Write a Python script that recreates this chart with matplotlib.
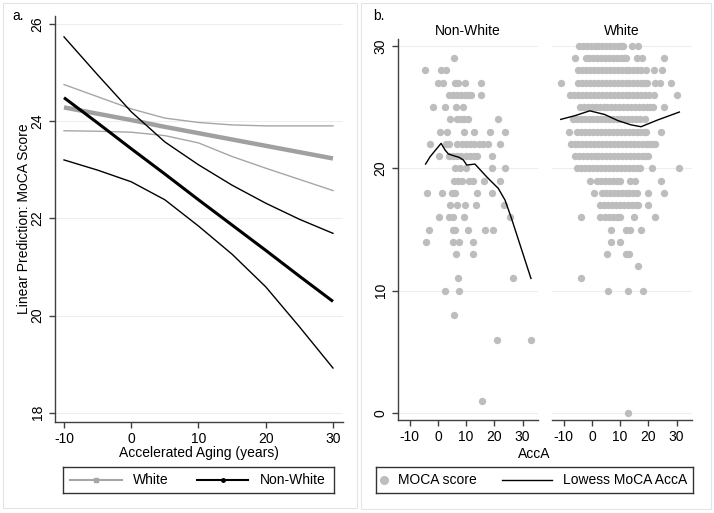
import matplotlib.pyplot as plt
from matplotlib.patches import Rectangle

plt.rcParams['font.family'] = ['Liberation Sans', 'DejaVu Sans']
plt.rcParams['axes.unicode_minus'] = False

# ---- panel a: linear predictions by group
acc_x = [-10, -5, 0, 5, 10, 15, 20, 25, 30]
white_fit = [24.28, 24.15, 24.02, 23.88, 23.75, 23.62, 23.49, 23.36, 23.23]
white_hi = [24.75, 24.50, 24.25, 24.06, 23.97, 23.92, 23.90, 23.90, 23.90]
white_lo = [23.80, 23.79, 23.77, 23.70, 23.55, 23.27, 23.03, 22.80, 22.57]
nonwhite_fit = [24.48, 23.96, 23.43, 22.91, 22.38, 21.86, 21.34, 20.81, 20.29]
nonwhite_hi = [25.73, 24.95, 24.19, 23.57, 23.10, 22.68, 22.31, 21.98, 21.69]
nonwhite_lo = [23.20, 22.99, 22.75, 22.38, 21.84, 21.26, 20.59, 19.77, 18.92]

# ---- panel b: MoCA score vs AccA, one list of AccA values per score row
nw_scores = [29, 28, 27, 26, 25, 24, 23, 22, 21, 20, 19, 18, 17, 16, 15, 14, 13, 11, 10, 8, 6, 1]
nw_acca = [
	[5.7],
	[-4.5, 1.2, 2.7],
	[0.0, 1.8, 6.0, 7.2, 9.6, 15.3],
	[4.0, 5.4, 6.8, 8.2, 9.6, 10.8, 11.6, 15.2],
	[-1.7, 2.4, 6.5, 8.9],
	[4.4, 6.6, 8.0, 9.4, 10.8, 21.3],
	[0.6, 3.3, 9.1, 12.9, 18.3, 23.9],
	[-2.9, 2.8, 4.0, 6.9, 8.4, 9.9, 11.4, 12.9, 14.4, 15.9, 17.6, 21.9],
	[0.5, 3.8, 5.3, 6.8, 8.3, 9.8, 11.3, 12.8, 14.0, 19.0],
	[6.0, 7.7, 10.1, 19.2, 23.7],
	[5.6, 7.0, 8.4, 11.0, 12.6, 16.5, 22.1],
	[-4.0, 1.3, 5.0, 6.2, 13.7, 19.0],
	[4.4, 6.9, 9.7, 13.6, 23.4],
	[0.2, 4.0, 5.2, 9.2, 25.6],
	[-3.2, 5.3, 6.2, 10.6, 16.8, 19.5],
	[-4.1, 5.3, 7.3, 12.4],
	[6.3, 12.4],
	[7.1, 26.8],
	[2.4, 7.5],
	[5.7],
	[20.9, 33.1],
	[15.6],
]

w_scores = [30, 29, 28, 27, 26, 25, 24, 23, 22, 21, 20, 19, 18, 17, 16, 15, 14, 13, 12, 11, 10, 0]
w_acca = [
	[-4.7, -3.3, -1.9, -0.5, 0.9, 2.3, 3.7, 5.1, 6.5, 7.9, 9.3, 10.2, 11.0, 14.3, 16.5],
	[-5.9, -2.3, -0.9, 0.5, 1.9, 3.3, 4.7, 6.1, 7.5, 8.9, 10.3, 11.2, 12.1, 16.0, 17.7, 25.7],
	[-4.9, -3.5, -2.1, -0.7, 0.7, 2.1, 3.5, 4.9, 6.3, 7.7, 9.1, 10.5, 11.9, 13.3, 14.7, 16.1,
	 17.5, 19.0, 22.0, 24.8],
	[-11.1, -4.9, -3.5, -2.1, -0.7, 0.7, 2.1, 3.5, 4.9, 6.3, 7.7, 9.1, 10.5, 11.9, 13.3, 14.7,
	 16.1, 17.5, 18.6, 19.4, 22.4, 24.3, 28.0],
	[-7.7, -6.3, -4.9, -3.5, -2.1, -0.7, 0.7, 2.1, 3.5, 4.9, 6.3, 7.7, 9.1, 10.5, 11.9, 13.3,
	 14.7, 16.1, 17.5, 18.9, 20.3, 21.9, 30.0],
	[-4.3, -2.9, -1.5, -0.1, 1.3, 2.7, 4.1, 5.5, 6.9, 8.3, 9.7, 11.1, 12.5, 13.9, 15.3, 16.7,
	 18.1, 19.5, 20.7, 21.8, 25.4],
	[-6.7, -5.3, -3.9, -2.5, -1.1, 0.3, 1.7, 3.1, 4.5, 5.9, 7.3, 8.7, 10.1, 11.5, 12.9, 14.3,
	 15.7, 17.1, 18.8],
	[-8.3, -5.2, -3.8, -2.4, -1.0, 0.4, 1.8, 3.2, 4.6, 6.0, 7.4, 8.8, 10.2, 11.6, 13.0, 14.4,
	 15.8, 17.2, 18.4, 19.2, 24.5],
	[-7.6, -6.2, -4.8, -3.4, -2.0, -0.6, 0.8, 2.2, 3.6, 5.0, 6.4, 7.8, 9.2, 10.6, 12.0, 13.4,
	 14.8, 16.2, 17.6, 19.0, 20.4, 21.4, 22.4],
	[-6.1, -4.7, -3.3, -1.9, -0.5, 0.9, 2.3, 3.7, 5.1, 6.5, 7.9, 9.3, 10.7, 12.1, 13.5, 14.9,
	 16.3, 17.7, 18.9, 19.8],
	[-5.2, -3.8, -2.4, -1.0, 0.4, 1.8, 3.2, 4.6, 6.0, 7.4, 8.8, 10.2, 11.6, 13.0, 14.4, 15.8,
	 17.2, 21.2, 31.0],
	[-0.8, 1.9, 3.3, 4.7, 6.1, 7.5, 8.9, 10.0, 13.6, 15.3, 24.5],
	[0.7, 3.5, 4.9, 6.3, 7.7, 9.1, 10.5, 11.9, 13.3, 14.7, 16.0, 20.0, 25.4],
	[3.0, 4.4, 5.8, 7.2, 8.6, 10.0, 11.4, 12.8, 14.2, 15.5, 16.5, 19.8],
	[-4.0, 3.0, 4.7, 6.1, 7.5, 8.7, 9.8, 14.8, 22.4],
	[6.8, 12.2, 13.6, 17.4],
	[6.8, 9.9],
	[5.4, 12.1, 13.3],
	[16.3],
	[-4.0],
	[5.7, 12.9, 18.2],
	[12.9],
]

# lowess curves
nw_lowess_x = [-4.4, -2.8, 1.1, 2.5, 3.7, 6.0, 7.5, 9.0, 10.2, 11.5, 13.1, 17.3, 21.4, 23.8, 26.1, 33.0]
nw_lowess_y = [20.35, 20.95, 22.04, 21.5, 21.17, 21.0, 20.9, 20.68, 20.27, 20.3, 20.35, 19.3, 18.36, 17.4, 15.9, 11.0]
w_lowess_x = [-11.1, -6.1, -0.8, 4.5, 9.2, 13.9, 17.4, 23.3, 31.0]
w_lowess_y = [24.0, 24.3, 24.7, 24.4, 23.9, 23.55, 23.4, 23.95, 24.6]

W, H = 714, 513
axis_col = '#404040'
grid_col = '#eeeeee'
dot_col = '#bdbdbd'
white_col = '#a6a6a6'


def fbox(x0, y_top, w, h):
	# pixel box (top-left origin) -> figure fraction rect
	return [x0 / W, 1 - (y_top + h) / H, w / W, h / H]


def style_axes(ax):
	for s in ['top', 'right']:
		ax.spines[s].set_visible(False)
	for s in ['left', 'bottom']:
		ax.spines[s].set_color(axis_col)
		ax.spines[s].set_linewidth(1.0)
	ax.tick_params(length=4, width=1, color=axis_col, labelsize=10, direction='out')
	ax.yaxis.grid(True, color=grid_col, lw=0.8)
	ax.set_axisbelow(True)


def legend_box(x0, y0, w, h):
	lax = fig.add_axes(fbox(x0, y0, w, h))
	lax.set_xlim(0, w)
	lax.set_ylim(h, 0)
	lax.set_xticks([])
	lax.set_yticks([])
	for s in lax.spines.values():
		s.set_color('#333333')
		s.set_linewidth(1.0)
	return lax


fig = plt.figure(figsize=(W / 100, H / 100), dpi=100)

# panel borders
fig.patches.append(Rectangle((3 / W, 1 - 508 / H), 354 / W, 505 / H, transform=fig.transFigure,
                             fill=False, ec='#e4e4e4', lw=0.8))
fig.patches.append(Rectangle((361 / W, 1 - 509 / H), 350 / W, 506 / H, transform=fig.transFigure,
                             fill=False, ec='#e4e4e4', lw=0.8))

# ---------------- panel a
ax = fig.add_axes(fbox(55, 16, 288, 406))
style_axes(ax)
ax.plot(acc_x, white_hi, color=white_col, lw=1.0)
ax.plot(acc_x, white_lo, color=white_col, lw=1.0)
ax.plot(acc_x, white_fit, color='#a0a0a0', lw=3.2, solid_capstyle='butt')
ax.plot(acc_x, nonwhite_hi, color='black', lw=1.0)
ax.plot(acc_x, nonwhite_lo, color='black', lw=1.0)
ax.plot(acc_x, nonwhite_fit, color='black', lw=2.2, solid_capstyle='butt')
ax.set_xlim(-11.34, 31.49)
ax.set_ylim(17.81, 26.16)
ax.set_xticks([-10, 0, 10, 20, 30])
ax.set_yticks([18, 20, 22, 24, 26])
ax.tick_params(axis='y', labelrotation=90)
for t in ax.get_yticklabels():
	t.set_va('center')
ax.set_xlabel('Accelerated Aging (years)', fontsize=10, labelpad=0)
ax.set_ylabel('Linear Prediction: MoCA Score', fontsize=10, labelpad=0)
fig.text(12 / W, 1 - 16 / H, 'a.', fontsize=10, va='center', ha='left')

lax = legend_box(63, 467, 271, 26)
lax.plot([7, 59], [13, 13], color=white_col, lw=1.5)
lax.plot([33], [13], color=white_col, marker='s', ms=2.5)
lax.text(70, 13.5, 'White', fontsize=10, va='center')
lax.plot([134, 185], [13, 13], color='black', lw=1.5)
lax.plot([160], [13], color='black', marker='o', ms=2.5)
lax.text(197, 13.5, 'Non-White', fontsize=10, va='center')

# ---------------- panel b
ax_nw = fig.add_axes(fbox(398, 39, 140, 381))
ax_w = fig.add_axes(fbox(552, 39, 140, 381))
for a, scores, acca, lx, ly, title in [(ax_nw, nw_scores, nw_acca, nw_lowess_x, nw_lowess_y, 'Non-White'),
                                       (ax_w, w_scores, w_acca, w_lowess_x, w_lowess_y, 'White')]:
	style_axes(a)
	for sc, xs in zip(scores, acca):
		a.scatter(xs, [sc] * len(xs), s=28, color=dot_col, linewidths=0, zorder=2)
	a.plot(lx, ly, color='black', lw=1.0, zorder=3)
	a.set_xlim(-14.2, 35.5)
	a.set_ylim(-0.57, 30.57)
	a.set_xticks([-10, 0, 10, 20, 30])
	a.set_yticks([0, 10, 20, 30])
	a.set_title(title, fontsize=10, pad=3)

ax_nw.tick_params(axis='y', labelrotation=90)
for t in ax_nw.get_yticklabels():
	t.set_va('center')
ax_w.spines['left'].set_visible(False)
ax_w.tick_params(axis='y', left=False, labelleft=False)

fig.text(534 / W, 1 - 454 / H, 'AccA', fontsize=10, ha='center', va='center')
fig.text(373 / W, 1 - 16 / H, 'b.', fontsize=10, va='center', ha='left')

lbx = legend_box(376, 467, 317, 26)
lbx.plot([8], [13], color=dot_col, marker='o', ms=5.5, lw=0)
lbx.text(22, 13.5, 'MOCA score', fontsize=10, va='center')
lbx.plot([126, 176], [13, 13], color='black', lw=1.0)
lbx.text(187, 13.5, 'Lowess MoCA AccA', fontsize=10, va='center')

fig.savefig('out.png', dpi=100)
